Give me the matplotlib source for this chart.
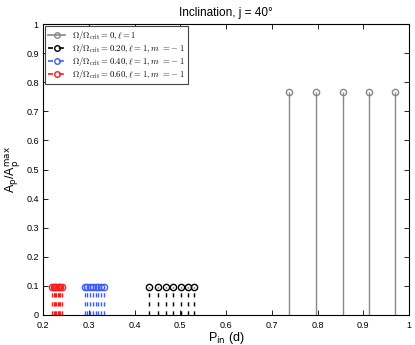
import matplotlib
matplotlib.use('Agg')
import matplotlib.pyplot as plt
from matplotlib.legend_handler import HandlerLine2D
from matplotlib.font_manager import FontProperties
from matplotlib.lines import Line2D

plt.rcParams.update({
    'font.family': 'sans-serif', 'font.sans-serif': ['Liberation Sans', 'DejaVu Sans'],
    'font.size': 7,
})

# stem data: period (d) and relative amplitude
p_omega0 = [0.737, 0.797, 0.855, 0.912, 0.970]
a_omega0 = [0.765, 0.765, 0.765, 0.765, 0.765]

p_omega20 = [0.432, 0.451, 0.468, 0.485, 0.501, 0.517, 0.530]
a_omega20 = [0.096, 0.096, 0.096, 0.096, 0.096, 0.096, 0.096]

p_omega40 = [0.291, 0.297, 0.303, 0.309, 0.315, 0.321, 0.327, 0.333]
a_omega40 = [0.096, 0.096, 0.096, 0.096, 0.096, 0.096, 0.096, 0.096]

p_omega60 = [0.220, 0.223, 0.226, 0.229, 0.232, 0.235, 0.238, 0.241]
a_omega60 = [0.096, 0.096, 0.096, 0.096, 0.096, 0.096, 0.096, 0.096]

labels = [r'$\Omega/\Omega_{\rm crit} = 0, \ell = 1$',
          r'$\Omega/\Omega_{\rm crit} = 0.20, \ell = 1, m\ =\!{\rm -}1$',
          r'$\Omega/\Omega_{\rm crit} = 0.40, \ell = 1, m\ =\!{\rm -}1$',
          r'$\Omega/\Omega_{\rm crit} = 0.60, \ell = 1, m\ =\!{\rm -}1$']


class EndMarker(HandlerLine2D):
    # put the legend marker at the right end of the line, as MATLAB does
    def get_xdata(self, legend, xdescent, ydescent, width, height, fontsize):
        xdata, _ = super().get_xdata(legend, xdescent, ydescent, width, height, fontsize)
        return xdata, xdata[-1:]


fig = plt.figure(figsize=(4.15, 3.45), dpi=100)
ax = fig.add_axes([0.1036, 0.087, 0.882, 0.843])

series = [
    (p_omega0, a_omega0, '#888888', '-'),
    (p_omega20, a_omega20, 'black', (0, (3, 3.5))),
    (p_omega40, a_omega40, '#3a5cff', (0, (3, 3.5))),
    (p_omega60, a_omega60, '#ff1a1a', (0, (3, 3.5))),
]

handles = []
for (px, amp, col, ls), lab in zip(series, labels):
    ax.vlines(px, 0, amp, colors=col, linestyles=ls, linewidth=1)
    ax.plot(px, amp, 'o', mfc='none', mec=col, ms=4.5, mew=1)
    handles.append(Line2D([], [], color=col, linestyle=ls, linewidth=1.2,
                          marker='o', mfc='none', mec=col, ms=4, mew=1, label=lab))

ax.set_xlim(0.2, 1.0)
ax.set_ylim(0, 1)
ax.set_xticks([0.2, 0.3, 0.4, 0.5, 0.6, 0.7, 0.8, 0.9, 1.0])
ax.set_xticklabels(['0.2', '0.3', '0.4', '0.5', '0.6', '0.7', '0.8', '0.9', '1'])
ax.set_yticks([0, 0.1, 0.2, 0.3, 0.4, 0.5, 0.6, 0.7, 0.8, 0.9, 1.0])
ax.set_yticklabels(['0', '0.1', '0.2', '0.3', '0.4', '0.5', '0.6', '0.7', '0.8', '0.9', '1'])
ax.tick_params(direction='in', top=True, right=True, length=3.5, width=0.6, labelsize=6.5)
ax.tick_params(axis='x', pad=4)
ax.tick_params(axis='y', pad=3)
for s in ax.spines.values():
    s.set_linewidth(0.8)

ax.set_xlabel(r'P$_{\rm in}$ (d)', fontsize=9, labelpad=0)
ax.set_ylabel(r'A$_{\rm p}$/A$_{\rm p}^{\rm max}$', fontsize=9, labelpad=2)
ax.set_title('Inclination, j = 40°', fontsize=8.5, pad=6)

leg = ax.legend(handles=handles, loc='upper left', handler_map={Line2D: EndMarker(numpoints=1)},
                prop=FontProperties(size=6.3, math_fontfamily='cm'),
                fancybox=False, edgecolor='#444444', framealpha=1,
                handlelength=2.0, handletextpad=0.8, labelspacing=0.0,
                borderpad=0.3, borderaxespad=0.25)
leg.get_frame().set_linewidth(0.8)

fig.savefig('out.png', dpi=100)
